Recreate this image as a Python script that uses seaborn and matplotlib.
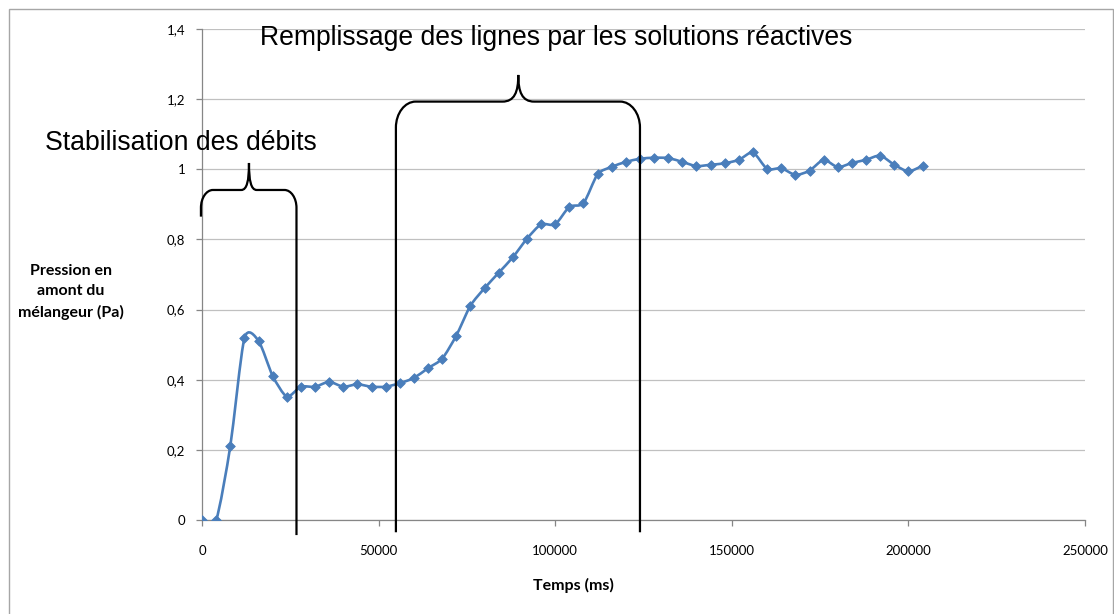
import numpy as np
import pandas as pd
import matplotlib
matplotlib.use("Agg")
import matplotlib.pyplot as plt
from matplotlib.path import Path
from matplotlib.patches import PathPatch, Rectangle
from matplotlib.ticker import FuncFormatter
import seaborn as sns

# Mesures : temps (ms) et pression en amont du mélangeur (Pa)
temps_ms = [0, 4000, 8000, 12000, 16000, 20000, 24000, 28000, 32000, 36000,
            40000, 44000, 48000, 52000, 56000, 60000, 64000, 68000, 72000, 76000,
            80000, 84000, 88000, 92000, 96000, 100000, 104000, 108000, 112000, 116000,
            120000, 124000, 128000, 132000, 136000, 140000, 144000, 148000, 152000, 156000,
            160000, 164000, 168000, 172000, 176000, 180000, 184000, 188000, 192000, 196000,
            200000, 204000]
pression_pa = [0.000, 0.000, 0.210, 0.518, 0.511, 0.411, 0.352, 0.380, 0.380, 0.394,
               0.380, 0.387, 0.380, 0.380, 0.390, 0.405, 0.433, 0.460, 0.526, 0.611,
               0.661, 0.705, 0.749, 0.802, 0.843, 0.843, 0.893, 0.903, 0.986, 1.007,
               1.021, 1.030, 1.033, 1.032, 1.021, 1.009, 1.013, 1.017, 1.027, 1.048,
               1.001, 1.003, 0.984, 0.996, 1.027, 1.006, 1.018, 1.027, 1.039, 1.013,
               0.994, 1.010]

x_ticks = [0, 50000, 100000, 150000, 200000, 250000]
y_ticks = [0, 0.2, 0.4, 0.6, 0.8, 1.0, 1.2, 1.4]

phase_labels = ["Stabilisation des débits",
                "Remplissage des lignes par les solutions réactives"]

df = pd.DataFrame({"temps": temps_ms, "pression": pression_pa})

sns.set_style("white")
plt.rcParams["font.family"] = ["Lato", "DejaVu Sans"]

LINE_BLUE = "#4a7ebb"
AXIS_GREY = "#868686"
GRID_GREY = "#c0c0c0"

fig = plt.figure(figsize=(11.14, 6.14), dpi=100)
ax = fig.add_axes([202 / 1114, 94 / 614, 883 / 1114, 491 / 614])

# Outer chart frame
fig.patches.append(Rectangle((8.5 / 1114, -0.05), 1104 / 1114, (614 - 8.5) / 614 + 0.05,
                             transform=fig.transFigure, fill=False,
                             edgecolor="#a6a6a6", linewidth=1.0, zorder=0))


def smooth_path(xs, ys, k=0.12):
    """Cubic Bezier path through the points (Catmull-Rom style tangents)."""
    pts = np.column_stack([xs, ys]).astype(float)
    n = len(pts)
    verts = [pts[0]]
    codes = [Path.MOVETO]
    for i in range(n - 1):
        p0 = pts[i - 1] if i > 0 else pts[i]
        p1 = pts[i]
        p2 = pts[i + 1]
        p3 = pts[i + 2] if i + 2 < n else pts[i + 1]
        c1 = p1 + (p2 - p0) * k
        c2 = p2 - (p3 - p1) * k
        verts += [c1, c2, p2]
        codes += [Path.CURVE4] * 3
    return Path(verts, codes)


ax.add_patch(PathPatch(smooth_path(df["temps"], df["pression"]), fill=False,
                       edgecolor=LINE_BLUE, linewidth=1.9, zorder=3,
                       capstyle="round", joinstyle="round"))
sns.scatterplot(data=df, x="temps", y="pression", marker="D", s=24,
                color=LINE_BLUE, edgecolor=LINE_BLUE, linewidth=0.6,
                zorder=4, ax=ax, legend=False)

ax.set_xlim(0, 250000)
ax.set_ylim(0, 1.4)
ax.set_xticks(x_ticks)
ax.set_yticks(y_ticks)
ax.yaxis.set_major_formatter(FuncFormatter(lambda v, p: ("%g" % round(v, 1)).replace(".", ",")))
ax.xaxis.set_major_formatter(FuncFormatter(lambda v, p: "%d" % v))

ax.grid(axis="y", color=GRID_GREY, linewidth=0.9)
ax.grid(axis="x", visible=False)
ax.set_axisbelow(True)
for side in ("top", "right"):
    ax.spines[side].set_visible(False)
for side in ("left", "bottom"):
    ax.spines[side].set_color(AXIS_GREY)
    ax.spines[side].set_linewidth(0.9)
ax.tick_params(axis="y", direction="out", length=4, width=0.9, color=AXIS_GREY,
               pad=8, labelsize=9.5, labelcolor="black", left=True)
ax.tick_params(axis="x", direction="out", length=4, width=0.9, color=AXIS_GREY,
               pad=14, labelsize=9.5, labelcolor="black", bottom=True)

ax.set_xlabel("Temps (ms)", fontsize=11.5, fontweight="bold", color="black")
ax.xaxis.set_label_coords((573 - 202) / 883, -(585 - 520) / 491)
ax.xaxis.label.set_va("center")
ax.set_ylabel("Pression en\namont du\nmélangeur (Pa)", fontsize=11.5, fontweight="bold",
              color="black", rotation=0, ha="center", va="center", linespacing=1.6)
ax.yaxis.set_label_coords(-(202 - 71) / 883, (520 - 292) / 491)


def brace(x_left, x_right, x_tip, y_bar, y_tip, y_left_end, y_right_end,
          rx, ry, tx):
    """Curly-brace outline opening downward, drawn in data coordinates."""
    h = y_tip - y_bar
    verts = [
        (x_left, y_left_end),
        (x_left, y_bar - ry),
        (x_left, y_bar - ry * 0.45), (x_left + rx * 0.45, y_bar), (x_left + rx, y_bar),
        (x_tip - tx, y_bar),
        (x_tip - tx * 0.25, y_bar), (x_tip, y_bar + h * 0.35), (x_tip, y_tip),
        (x_tip, y_bar + h * 0.35), (x_tip + tx * 0.25, y_bar), (x_tip + tx, y_bar),
        (x_right - rx, y_bar),
        (x_right - rx * 0.45, y_bar), (x_right, y_bar - ry * 0.45), (x_right, y_bar - ry),
        (x_right, y_right_end),
    ]
    codes = [Path.MOVETO, Path.LINETO,
             Path.CURVE4, Path.CURVE4, Path.CURVE4,
             Path.LINETO,
             Path.CURVE4, Path.CURVE4, Path.CURVE4,
             Path.CURVE4, Path.CURVE4, Path.CURVE4,
             Path.LINETO,
             Path.CURVE4, Path.CURVE4, Path.CURVE4,
             Path.LINETO]
    ax.add_patch(PathPatch(Path(verts, codes), fill=False, edgecolor="black",
                           linewidth=1.6, clip_on=False, zorder=5))


brace(-300, 26750, 13300, 0.941, 1.018, 0.865, -0.043, 3400, 0.051, 2200)
brace(54900, 124000, 89550, 1.193, 1.269, -0.035, -0.035, 5600, 0.074, 4500)

ax.text(-44500, 1.075, phase_labels[0], fontsize=19.2, family="Liberation Sans",
        color="black", ha="left", va="center", clip_on=False)
ax.text(16400, 1.374, phase_labels[1], fontsize=19.1, family="Liberation Sans",
        color="black", ha="left", va="center", clip_on=False)

fig.savefig("out.png", dpi=100)
